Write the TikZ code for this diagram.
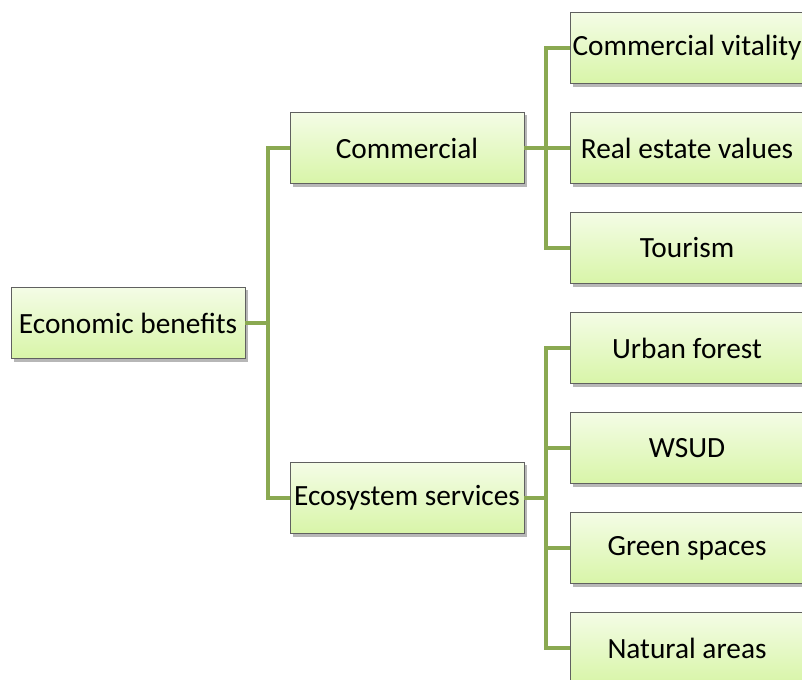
\documentclass[tikz,border=0pt]{standalone}
\usepackage{fontspec}
\setmainfont{Carlito}
\usetikzlibrary{shadows}

\begin{document}
\begin{tikzpicture}[x=0.75pt,y=-0.75pt,
    box/.style={draw=gray!75!black, line width=0.5pt,
        top color=box_top, bottom color=box_bottom,
        minimum width=175.5pt, minimum height=53.5pt, inner sep=0pt,
        font=\fontsize{22}{24}\selectfont,
        drop shadow={shadow xshift=2.2pt, shadow yshift=-2.2pt, opacity=0.4, fill=black!70}},
    branch/.style={draw=line_green, line width=3pt}]
    \definecolor{box_top}{HTML}{F4FCE6}
    \definecolor{box_bottom}{HTML}{D8F5A8}
    \definecolor{line_green}{HTML}{8AA951}
    %\draw[help lines,step=50] (0,0) grid (802,680);
    \useasboundingbox (0,0) rectangle (802,680);

    \node[box] (benefits) at (128,323) {Economic benefits};

    \node[box] (commercial) at (407,148) {Commercial};
    \node[box] (ecosystem) at (407,498) {Ecosystem services};

    \node[box] (leaf0) at (687,48) {Commercial vitality};
    \node[box] (leaf1) at (687,148) {Real estate values};
    \node[box] (leaf2) at (687,248) {Tourism};
    \node[box] (leaf3) at (687,348) {Urban forest};
    \node[box] (leaf4) at (687,448) {WSUD};
    \node[box] (leaf5) at (687,548) {Green spaces};
    \node[box] (leaf6) at (687,648) {Natural areas};

    \coordinate (split0) at (268,323);
    \coordinate (split1) at (546,148);
    \coordinate (split2) at (546,498);

    \draw[branch] (benefits.east) -- (split0);
    \draw[branch] (commercial.west) -| (split0) |- (ecosystem.west);
    \draw[branch] (commercial.east) -- (split1);
    \draw[branch] (leaf0.west) -| (split1) |- (leaf2.west);
    \draw[branch] (split1) -- (leaf1.west);
    \draw[branch] (ecosystem.east) -- (split2);
    \draw[branch] (leaf3.west) -| (split2) |- (leaf6.west);
    \draw[branch] (split2) |- (leaf4.west);
    \draw[branch] (split2) |- (leaf5.west);
\end{tikzpicture}
\end{document}
